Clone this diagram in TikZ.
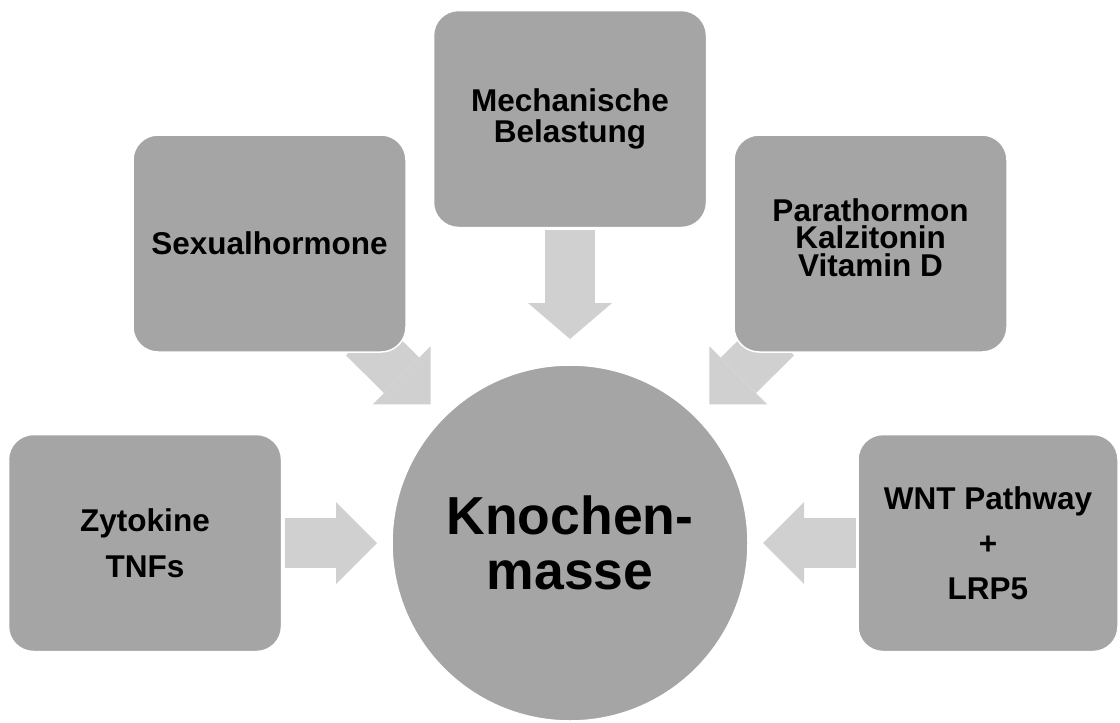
\documentclass[tikz,border=0pt]{standalone}
\usepackage{fontspec}
\setmainfont{Liberation Sans}
\usetikzlibrary{arrows.meta,backgrounds}

\definecolor{boxgrey}{HTML}{A5A5A5}
\definecolor{arrowgrey}{HTML}{D0D0D0}

\tikzset{
  factor/.style={draw=white, line width=1.5pt, fill=boxgrey, rounded corners=25pt,
    minimum width=273pt, minimum height=217pt, inner sep=0pt, outer sep=0pt,
    align=center, font=\bfseries\fontsize{31.5}{31.5}\selectfont},
  bone/.style={circle, draw=white, line width=1.5pt, fill=boxgrey, minimum size=356pt,
    inner sep=0pt, outer sep=0pt, align=center, font=\bfseries\fontsize{53.5}{55}\selectfont},
  blockarrow/.style={draw=arrowgrey, line width=50pt, line cap=butt,
    -{Triangle[length=41pt,width=82pt,line width=0pt]}}
}

\begin{document}
\begin{tikzpicture}[x=1pt, y=-1pt]
            \useasboundingbox (0,0) rectangle (1120,723);

            % Centre
            \node[bone] (knochen) at (570,543) {Knochen-\\masse};

            % Influences
            \node[factor] (mech) at (570,119) {Mechanische\\Belastung};
            \node[factor] (sex) at (269.5,243.5) {Sexualhormone};
            \node[factor, text depth=12pt, font=\bfseries\fontsize{31.5}{27.5}\selectfont] (para) at (870.5,243.5) {Parathormon\\Kalzitonin\\Vitamin D};
            \node[factor, font=\bfseries\fontsize{31.5}{45.5}\selectfont] (zyt) at (145,543) {Zytokine\\TNFs};
            \node[factor, minimum width=260pt, font=\bfseries\fontsize{31.5}{45}\selectfont] (wnt) at (988,543) {WNT Pathway\\+\\LRP5};

            % Arrows
            \begin{scope}[on background layer]
            \fill[white] (0,0) rectangle (1120,723);
            \draw[blockarrow, shorten <=2pt, shorten >=26pt, -{Triangle[length=36pt,width=84pt,line width=0pt]}] (mech) -- (knochen);
            \draw[blockarrow, shorten <=-20.4pt, shorten >=18.6pt] (sex) -- (knochen);
            \draw[blockarrow, shorten <=-20.4pt, shorten >=18.6pt] (para) -- (knochen);
            \draw[blockarrow, shorten <=3pt, shorten >=15pt] (zyt) -- (knochen);
            \draw[blockarrow, shorten <=2pt, shorten >=15pt] (wnt) -- (knochen);
            \end{scope}
        \end{tikzpicture}
\end{document}
